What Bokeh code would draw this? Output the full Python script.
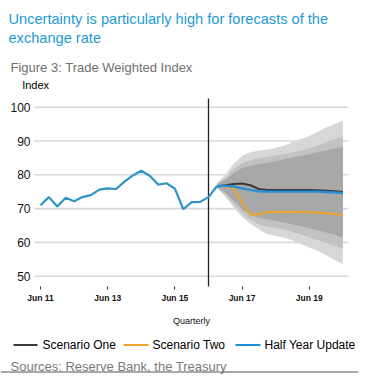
from bokeh.plotting import figure
from bokeh.models import LinearAxis, FixedTicker
from bokeh.core.properties import value
from bokeh.embed import file_html
from bokeh.resources import INLINE

# ---------------- data ----------------
tick_quarters = [0, 8, 16, 24, 32]
tick_labels = ["Jun 11", "Jun 13", "Jun 15", "Jun 17", "Jun 19"]
y_ticks = [50, 60, 70, 80, 90, 100]

# historical TWI, quarterly from Jun 11 (quarter 0) to Sep 16 (quarter 21)
hist_start = 0
hist_twi = [71.0, 73.4, 70.6, 73.2, 72.2, 73.4, 74.0, 75.6, 76.0, 75.8, 78.0,
            79.8, 81.2, 79.7, 77.1, 77.5, 75.9, 69.8, 71.9, 72.0, 73.4, 76.6]

# forecasts, quarter 21 (Sep 16) to quarter 36 (Jun 20)
fc_start = 21
half_year_update = [76.6, 76.8, 76.5, 76.0, 75.5, 75.1, 75.0, 75.0, 75.0, 75.0,
                    75.0, 75.0, 75.0, 74.9, 74.8, 74.6]
scenario_one = [76.6, 76.9, 77.3, 77.4, 76.9, 75.8, 75.5, 75.5, 75.5, 75.5,
                75.5, 75.5, 75.4, 75.3, 75.1, 74.9]
scenario_two = [76.6, 76.6, 76.0, 71.8, 68.2, 68.3, 69.0, 69.0, 69.0, 69.0,
                69.0, 68.9, 68.8, 68.6, 68.4, 68.2]

# uncertainty fan bands, quarter 21 .. 36
light_hi = [77.6, 80.0, 83.3, 85.6, 86.7, 87.1, 87.5, 88.0, 88.6, 89.6, 90.6, 91.5, 92.7, 94.0, 95.0, 96.0]
med_hi   = [77.3, 79.0, 81.8, 83.5, 84.3, 84.8, 85.3, 85.7, 86.1, 86.6, 87.1, 87.8, 88.7, 89.6, 90.5, 91.3]
dark_hi  = [77.1, 78.5, 80.5, 82.0, 82.7, 83.2, 83.6, 84.1, 84.5, 85.1, 85.6, 86.1, 86.7, 87.3, 87.8, 88.2]
dark_lo  = [76.3, 74.8, 72.3, 69.8, 68.0, 67.3, 66.8, 66.4, 65.9, 65.3, 64.8, 64.2, 63.6, 62.9, 62.2, 61.4]
med_lo   = [76.2, 74.2, 71.3, 68.6, 66.6, 65.3, 64.6, 64.2, 63.8, 63.1, 62.4, 61.5, 60.7, 59.8, 59.0, 58.3]
light_lo = [76.0, 73.5, 70.3, 67.5, 65.5, 63.8, 62.4, 61.9, 61.4, 60.6, 59.5, 58.5, 57.5, 56.2, 54.8, 53.5]

forecast_origin = 20

title_lines = ["Uncertainty is particularly high for forecasts of the", "exchange rate"]
subtitle = "Figure 3: Trade Weighted Index"
y_unit = "Index"
x_title = "Quarterly"
series_names = ["Scenario One", "Scenario Two", "Half Year Update"]
source = "Sources: Reserve Bank, the Treasury"

# ---------------- layout / style ----------------
FONT = value("Liberation Sans")
W, H = 359, 375
X0, PXQ = 40.0, 8.4          # pixel of quarter 0, pixels per quarter
Y100, PXI = 106.7, 3.38      # pixel of index 100, pixels per index point


def X(px):
    return (px - X0) / PXQ


def Y(py):
    return 100 - (py - Y100) / PXI


C_HIST = "#2e93c6"
C_ONE, C_TWO, C_HYU = "#3a3a3a", "#f2a32c", "#1e8fd8"
BLUE_T, GREY_T = "#1e9ad6", "#707070"

p = figure(width=W, height=H, output_backend="svg", toolbar_location=None,
           x_range=(X(0), X(W)), y_range=(Y(H), Y(0)),
           x_axis_location=None, y_axis_location=None, min_border=0)
p.outline_line_color = None
p.grid.visible = False
p.background_fill_color = "white"
p.border_fill_color = "white"

chart_left, chart_right = X(34), X(348)
chart_top, chart_bottom = Y(98), Y(286)

# horizontal gridlines
p.segment(x0=[chart_left] * len(y_ticks), x1=[chart_right] * len(y_ticks),
          y0=y_ticks, y1=y_ticks, line_color="#d9d9d9", line_width=1.6)

hx = list(range(hist_start, hist_start + len(hist_twi)))
fx = list(range(fc_start, fc_start + len(half_year_update)))

# fan
p.varea(x=fx, y1=light_lo, y2=light_hi, fill_color="#d7d7d7")
p.varea(x=fx, y1=med_lo, y2=med_hi, fill_color="#c2c2c2")
p.varea(x=fx, y1=dark_lo, y2=dark_hi, fill_color="#a8a8a8")

# forecast origin line
p.segment(x0=[forecast_origin], x1=[forecast_origin], y0=[chart_bottom], y1=[chart_top],
          line_color="#222222", line_width=1.3)

p.line(hx, hist_twi, line_color=C_HIST, line_width=2.2)
p.line(fx, scenario_one, line_color=C_ONE, line_width=2)
p.line(fx, scenario_two, line_color=C_TWO, line_width=2)
p.line(fx, half_year_update, line_color=C_HYU, line_width=2.2)

# axes fixed at the chart's edges
yax = LinearAxis(ticker=FixedTicker(ticks=y_ticks), fixed_location=chart_left)
yax.axis_line_color = None
yax.major_tick_line_color = None
yax.minor_tick_line_color = None
yax.major_tick_in = 0
yax.major_tick_out = 0
yax.major_label_standoff = 4
yax.major_label_text_font = "Liberation Sans"
yax.major_label_text_font_size = "12px"
yax.major_label_text_color = "#111111"
p.add_layout(yax, "left")

xax = LinearAxis(ticker=FixedTicker(ticks=tick_quarters), fixed_location=chart_bottom)
xax.major_label_overrides = {q: l for q, l in zip(tick_quarters, tick_labels)}
xax.axis_line_color = None
xax.minor_tick_line_color = None
xax.major_tick_line_color = "#333333"
xax.major_tick_in = 0
xax.major_tick_out = 3
xax.major_label_standoff = 3
xax.major_label_text_font = "Liberation Sans"
xax.major_label_text_font_size = "8.5px"
xax.major_label_text_font_style = "bold"
xax.major_label_text_color = "#111111"
p.add_layout(xax, "below")

# texts
p.text(x=[X(8), X(8)], y=[Y(18.3), Y(37.7)], text=title_lines, text_font=FONT,
       text_font_size="14.6px", text_color=BLUE_T, text_baseline="alphabetic")
p.text(x=[X(10)], y=[Y(66.5)], text=[subtitle], text_font=FONT,
       text_font_size="13px", text_color=GREY_T, text_baseline="alphabetic")
p.text(x=[X(21.7)], y=[Y(84)], text=[y_unit], text_font=FONT,
       text_font_size="11px", text_color="#000000", text_baseline="alphabetic")
p.text(x=[X(191)], y=[Y(320.5)], text=[x_title], text_font=FONT,
       text_font_size="9px", text_color="#111111", text_align="center",
       text_baseline="alphabetic")

# legend (swatch + label)
leg_y = Y(344.5)
sw_x0 = [X(13), X(123), X(235)]
sw_x1 = [X(37), X(148), X(260)]
p.segment(x0=sw_x0, x1=sw_x1, y0=[leg_y] * 3, y1=[leg_y] * 3,
          line_color=[C_ONE, C_TWO, C_HYU], line_width=2)
p.text(x=[X(42), X(152), X(264)], y=[leg_y] * 3, text=series_names, text_font=FONT,
       text_font_size="12px", text_color="#000000", text_baseline="middle")

# source + rule
p.text(x=[X(10)], y=[Y(365.5)], text=[source], text_font=FONT,
       text_font_size="13px", text_color="#7a7a7a", text_baseline="alphabetic")
p.segment(x0=[X(0)], x1=[X(358)], y0=[Y(371.5)], y1=[Y(371.5)],
          line_color="#555555", line_width=1)

open("out.html", "w").write(file_html(p, INLINE))
